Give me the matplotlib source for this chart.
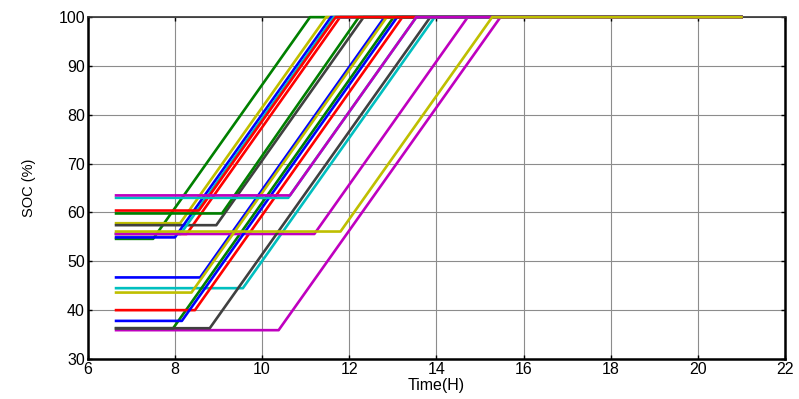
import numpy as np
import matplotlib
matplotlib.use('Agg')
import matplotlib.pyplot as plt

plt.rcParams['font.family'] = ['Liberation Sans', 'DejaVu Sans']

# old MATLAB colour order (b, g, r, c, m, y, k)
COLOR_ORDER = [(0, 0, 1), (0, 0.5, 0), (1, 0, 0), (0, 0.75, 0.75),
               (0.75, 0, 0.75), (0.75, 0.75, 0), (0.25, 0.25, 0.25)]

# one entry per EV, in plotting order
soc_init = [46.7, 54.6, 55.6, 44.5, 35.9, 57.8, 57.4,
            54.9, 36.3, 40.0, 55.6, 55.6, 43.6, 36.3,
            37.8, 59.8, 60.4, 63.0, 63.5, 56.1]
t_charge_start = [8.58, 7.50, 8.27, 9.56, 10.38, 8.12, 8.95,
                  8.00, 7.96, 8.46, 8.13, 11.20, 8.38, 8.80,
                  8.16, 9.08, 8.55, 10.60, 10.64, 11.80]
t_full = [12.81, 11.10, 11.79, 13.96, 15.47, 11.47, 12.33,
          11.58, 13.02, 13.22, 11.65, 14.72, 12.86, 13.86,
          13.10, 12.22, 11.69, 13.54, 13.54, 15.28]
t_arrive = 6.65
t_end = 21.0
soc_max = 100

fig = plt.figure(figsize=(7.99, 3.99), dpi=100)
ax = fig.add_axes([0.1098, 0.1003, 0.8727, 0.8567])

for i in range(len(soc_init)):
    t = [t_arrive, t_charge_start[i], t_full[i], t_end]
    s = [soc_init[i], soc_init[i], soc_max, soc_max]
    ax.plot(t, s, '-', color=COLOR_ORDER[i % 7], lw=1.9, clip_on=False, zorder=3)

ax.set_xlim(6, 22)
ax.set_ylim(30, 100)
ax.set_xticks(np.arange(6, 23, 2))
ax.set_yticks(np.arange(30, 101, 10))
ax.grid(True, color='#8c8c8c', lw=0.8, ls='-')
ax.set_axisbelow(True)
ax.tick_params(direction='in', top=True, right=True, length=3, width=1,
               labelsize=11.5, pad=2)
for side in ['left', 'bottom', 'right']:
    ax.spines[side].set_linewidth(1.8)
ax.spines['top'].set_linewidth(1.2)
ax.spines['top'].set_color('#333333')

ax.set_xlabel('Time(H)', fontsize=11.5, labelpad=1)
ax.set_ylabel('SOC (%)', fontsize=10.5, labelpad=16)

fig.savefig('out.png', dpi=100)
